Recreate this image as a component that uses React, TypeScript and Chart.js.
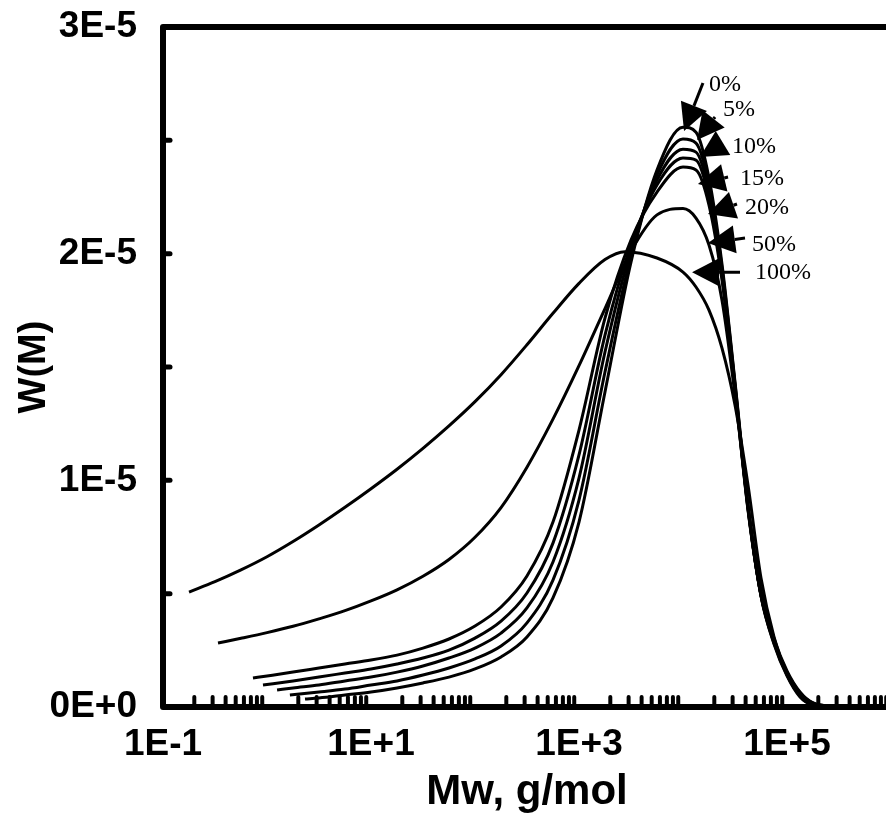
import React, { useEffect, useRef } from "react";
import { Chart, registerables } from "chart.js";
Chart.register(...registerables);

// ---- data (M in g/mol, W(M)) ----
const seriesNames = ["0%", "5%", "10%", "15%", "20%", "50%", "100%"];

const mass0 = [2.32, 3.16, 5.62, 10, 17.8, 31.6, 56.2, 100, 178, 316, 562, 1000, 1778, 3162, 5623, 10000, 13335, 17783, 23714, 31623, 42170, 56234, 74989, 100000, 133352, 177828, 316228];
const w0 = [0.035e-5, 0.040e-5, 0.053e-5, 0.066e-5, 0.084e-5, 0.106e-5, 0.132e-5, 0.168e-5, 0.221e-5, 0.309e-5, 0.481e-5, 0.816e-5, 1.390e-5, 1.963e-5, 2.369e-5, 2.558e-5, 2.536e-5, 2.334e-5, 1.954e-5, 1.434e-5, 0.887e-5, 0.490e-5, 0.278e-5, 0.137e-5, 0.044e-5, 0.009e-5, 0];

const mass5 = [1.66, 3.16, 5.62, 10, 17.8, 31.6, 56.2, 100, 178, 316, 562, 1000, 1778, 3162, 5623, 10000, 13335, 17783, 23714, 31623, 42170, 56234, 74989, 100000, 133352, 177828, 316228];
const w5 = [0.053e-5, 0.066e-5, 0.079e-5, 0.097e-5, 0.115e-5, 0.141e-5, 0.172e-5, 0.212e-5, 0.269e-5, 0.371e-5, 0.560e-5, 0.913e-5, 1.478e-5, 1.989e-5, 2.347e-5, 2.506e-5, 2.488e-5, 2.303e-5, 1.937e-5, 1.425e-5, 0.882e-5, 0.490e-5, 0.282e-5, 0.141e-5, 0.049e-5, 0.009e-5, 0];

const mass10 = [1.25, 1.78, 3.16, 5.62, 10, 17.8, 31.6, 56.2, 100, 178, 316, 562, 1000, 1778, 3162, 5623, 10000, 13335, 17783, 23714, 31623, 42170, 56234, 74989, 100000, 133352, 177828, 316228];
const w10 = [0.075e-5, 0.084e-5, 0.097e-5, 0.115e-5, 0.132e-5, 0.154e-5, 0.181e-5, 0.216e-5, 0.260e-5, 0.326e-5, 0.437e-5, 0.640e-5, 1.010e-5, 1.566e-5, 2.016e-5, 2.325e-5, 2.461e-5, 2.448e-5, 2.272e-5, 1.919e-5, 1.416e-5, 0.878e-5, 0.494e-5, 0.287e-5, 0.146e-5, 0.053e-5, 0.013e-5, 0];

const mass15 = [0.915, 1.78, 3.16, 5.62, 10, 17.8, 31.6, 56.2, 100, 178, 316, 562, 1000, 1778, 3162, 5623, 10000, 13335, 17783, 23714, 31623, 42170, 56234, 74989, 100000, 133352, 177828, 316228];
const w15 = [0.097e-5, 0.115e-5, 0.132e-5, 0.150e-5, 0.168e-5, 0.190e-5, 0.216e-5, 0.251e-5, 0.304e-5, 0.379e-5, 0.503e-5, 0.723e-5, 1.112e-5, 1.641e-5, 2.038e-5, 2.303e-5, 2.422e-5, 2.413e-5, 2.245e-5, 1.901e-5, 1.407e-5, 0.873e-5, 0.494e-5, 0.291e-5, 0.150e-5, 0.057e-5, 0.013e-5, 0];

const mass20 = [0.733, 1, 1.78, 3.16, 5.62, 10, 17.8, 31.6, 56.2, 100, 178, 316, 562, 1000, 1778, 3162, 5623, 10000, 13335, 17783, 23714, 31623, 42170, 56234, 74989, 100000, 133352, 177828, 316228];
const w20 = [0.128e-5, 0.137e-5, 0.154e-5, 0.172e-5, 0.190e-5, 0.207e-5, 0.229e-5, 0.260e-5, 0.300e-5, 0.357e-5, 0.441e-5, 0.578e-5, 0.816e-5, 1.222e-5, 1.716e-5, 2.060e-5, 2.272e-5, 2.382e-5, 2.369e-5, 2.214e-5, 1.884e-5, 1.398e-5, 0.869e-5, 0.494e-5, 0.296e-5, 0.154e-5, 0.062e-5, 0.018e-5, 0];

const mass50 = [0.338, 0.562, 1, 1.78, 3.16, 5.62, 10, 17.8, 31.6, 56.2, 100, 178, 316, 562, 1000, 1778, 3162, 5623, 10000, 13335, 17783, 23714, 31623, 42170, 56234, 74989, 100000, 133352, 177828, 316228];
const w50 = [0.282e-5, 0.303e-5, 0.328e-5, 0.356e-5, 0.389e-5, 0.425e-5, 0.468e-5, 0.517e-5, 0.577e-5, 0.651e-5, 0.749e-5, 0.880e-5, 1.058e-5, 1.270e-5, 1.506e-5, 1.758e-5, 2.010e-5, 2.171e-5, 2.199e-5, 2.157e-5, 2.038e-5, 1.795e-5, 1.376e-5, 0.891e-5, 0.516e-5, 0.304e-5, 0.159e-5, 0.066e-5, 0.018e-5, 0];

const mass100 = [0.178, 0.316, 0.562, 1, 1.78, 3.16, 5.62, 10, 17.8, 31.6, 56.2, 100, 178, 316, 562, 1000, 1778, 2768, 5623, 10000, 13335, 17783, 23714, 31623, 42170, 56234, 74989, 100000, 133352, 177828, 316228];
const w100 = [0.507e-5, 0.553e-5, 0.605e-5, 0.663e-5, 0.730e-5, 0.803e-5, 0.881e-5, 0.963e-5, 1.049e-5, 1.141e-5, 1.240e-5, 1.347e-5, 1.466e-5, 1.598e-5, 1.737e-5, 1.869e-5, 1.974e-5, 2.009e-5, 1.981e-5, 1.919e-5, 1.853e-5, 1.751e-5, 1.583e-5, 1.332e-5, 0.979e-5, 0.569e-5, 0.309e-5, 0.146e-5, 0.057e-5, 0.013e-5, 0];

// ---- axes ----
const xTickValues = [0.1, 10, 1000, 100000];
const xTickLabels = ["1E-1", "1E+1", "1E+3", "1E+5"];
const yTickValues = [0, 1e-5, 2e-5, 3e-5];
const yTickLabels = ["0E+0", "1E-5", "2E-5", "3E-5"];
const yMinorTicks = [0.5e-5, 1e-5, 1.5e-5, 2e-5, 2.5e-5];
const xMinorDecades = [0.1, 1, 10, 100, 1000, 10000, 100000];
const xMinorMantissas = [2, 3, 4, 5, 6, 7, 8, 9];

// ---- annotations (label text / arrow start / arrow tip, in data units) ----
const labelMass = [17783, 24266, 29580, 35320, 39450, 46030, 49200];
const labelW = [2.744e-5, 2.633e-5, 2.470e-5, 2.329e-5, 2.201e-5, 2.038e-5, 1.914e-5];
const arrowStartMass = [15560, 20324, 24266, 27100, 33040, 39450, 35320];
const arrowStartW = [2.753e-5, 2.603e-5, 2.488e-5, 2.338e-5, 2.219e-5, 2.069e-5, 1.918e-5];
const arrowTipMass = [10233, 13650, 14550, 13930, 17380, 17380, 12220];
const arrowTipW = [2.541e-5, 2.501e-5, 2.426e-5, 2.307e-5, 2.175e-5, 2.047e-5, 1.918e-5];

const seriesMass = [mass0, mass5, mass10, mass15, mass20, mass50, mass100];
const seriesW = [w0, w5, w10, w15, w20, w50, w100];

const SANS = '"Liberation Sans", Arial, sans-serif';
const SERIF = '"Liberation Serif", "Times New Roman", serif';

const framePlugin = {
  id: "frameAndArrows",
  afterDatasetsDraw(chart: any) {
    const { ctx, chartArea: a, scales } = chart;
    const x = scales.x;
    const y = scales.y;
    ctx.save();
    ctx.strokeStyle = "#000";
    ctx.fillStyle = "#000";
    ctx.lineWidth = 6;
    ctx.lineJoin = "round";
    ctx.strokeRect(a.left, a.top, a.right - a.left, a.bottom - a.top);
    ctx.lineWidth = 4;
    ctx.lineCap = "round";
    for (const d of xMinorDecades) {
      for (const m of xMinorMantissas) {
        const v = m * d;
        if (v > x.max) continue;
        const px = x.getPixelForValue(v);
        ctx.beginPath();
        ctx.moveTo(px, a.bottom);
        ctx.lineTo(px, a.bottom - 10);
        ctx.stroke();
      }
    }
    ctx.lineWidth = 5;
    for (const v of yMinorTicks) {
      const py = y.getPixelForValue(v);
      ctx.beginPath();
      ctx.moveTo(a.left, py);
      ctx.lineTo(a.left + 7, py);
      ctx.stroke();
    }
    ctx.lineCap = "butt";
    for (let i = 0; i < seriesNames.length; i++) {
      const sx = x.getPixelForValue(arrowStartMass[i]);
      const sy = y.getPixelForValue(arrowStartW[i]);
      const tx = x.getPixelForValue(arrowTipMass[i]);
      const ty = y.getPixelForValue(arrowTipW[i]);
      const dx = tx - sx;
      const dy = ty - sy;
      const len = Math.hypot(dx, dy) || 1;
      const ux = dx / len;
      const uy = dy / len;
      const head = Math.min(27, len);
      const bx = tx - ux * head;
      const by = ty - uy * head;
      ctx.lineWidth = 3;
      ctx.beginPath();
      ctx.moveTo(sx, sy);
      ctx.lineTo(bx, by);
      ctx.stroke();
      const hw = 14;
      ctx.beginPath();
      ctx.moveTo(tx, ty);
      ctx.lineTo(bx - uy * hw, by + ux * hw);
      ctx.lineTo(bx + uy * hw, by - ux * hw);
      ctx.closePath();
      ctx.fill();
      ctx.font = `24px ${SERIF}`;
      ctx.textAlign = "left";
      ctx.textBaseline = "middle";
      ctx.fillText(seriesNames[i], x.getPixelForValue(labelMass[i]), y.getPixelForValue(labelW[i]));
    }
    ctx.restore();
  },
};

export default function App() {
  const ref = useRef<HTMLCanvasElement>(null);
  useEffect(() => {
    if (!ref.current) return;
    const datasets = seriesNames.map((name, i) => ({
      label: name,
      data: seriesMass[i].map((m, j) => ({ x: m, y: seriesW[i][j] })),
      borderColor: "#000",
      backgroundColor: "#000",
      borderWidth: 3,
      pointRadius: 0,
      fill: false,
      cubicInterpolationMode: "monotone" as const,
    }));
    const chart = new Chart(ref.current, {
      type: "line",
      data: { datasets },
      options: {
        animation: false,
        responsive: false,
        devicePixelRatio: 1,
        layout: { padding: { left: 0, right: 9, top: 27, bottom: 0 } },
        plugins: { legend: { display: false }, tooltip: { enabled: false } },
        scales: {
          x: {
            type: "logarithmic",
            min: 0.1,
            max: 1000000,
            afterBuildTicks: (s: any) => {
              s.ticks = xTickValues.map((v) => ({ value: v }));
            },
            afterFit: (s: any) => {
              s.height = 121;
            },
            grid: { display: false, drawTicks: false },
            border: { display: false },
            ticks: {
              autoSkip: false,
              maxRotation: 0,
              padding: 16,
              color: "#000",
              font: { family: SANS, size: 37, weight: "bold" },
              callback: (_v: any, i: number) => xTickLabels[i],
            },
            title: {
              display: true,
              text: "Mw, g/mol",
              color: "#000",
              font: { family: SANS, size: 42, weight: "bold" },
              padding: { top: 0, bottom: 10 },
            },
          },
          y: {
            type: "linear",
            min: 0,
            max: 3e-5,
            afterBuildTicks: (s: any) => {
              s.ticks = yTickValues.map((v) => ({ value: v }));
            },
            afterFit: (s: any) => {
              s.width = 163;
            },
            grid: { display: false, drawTicks: true, tickLength: 26 },
            border: { display: false },
            ticks: {
              padding: 0,
              color: "#000",
              font: { family: SANS, size: 37, weight: "bold" },
              callback: (_v: any, i: number) => yTickLabels[i],
            },
            title: {
              display: true,
              text: "W(M)",
              color: "#000",
              font: { family: SANS, size: 38, weight: "bold" },
              padding: { top: 12, bottom: 0 },
            },
          },
        },
      },
      plugins: [framePlugin],
    } as any);
    return () => chart.destroy();
  }, []);
  return (
    <div
      style={{
        position: "fixed",
        left: 0,
        top: 0,
        width: 886,
        height: 828,
        overflow: "hidden",
        background: "#fff",
      }}
    >
      <canvas ref={ref} width={900} height={828} style={{ display: "block", width: 900, height: 828 }} />
    </div>
  );
}
